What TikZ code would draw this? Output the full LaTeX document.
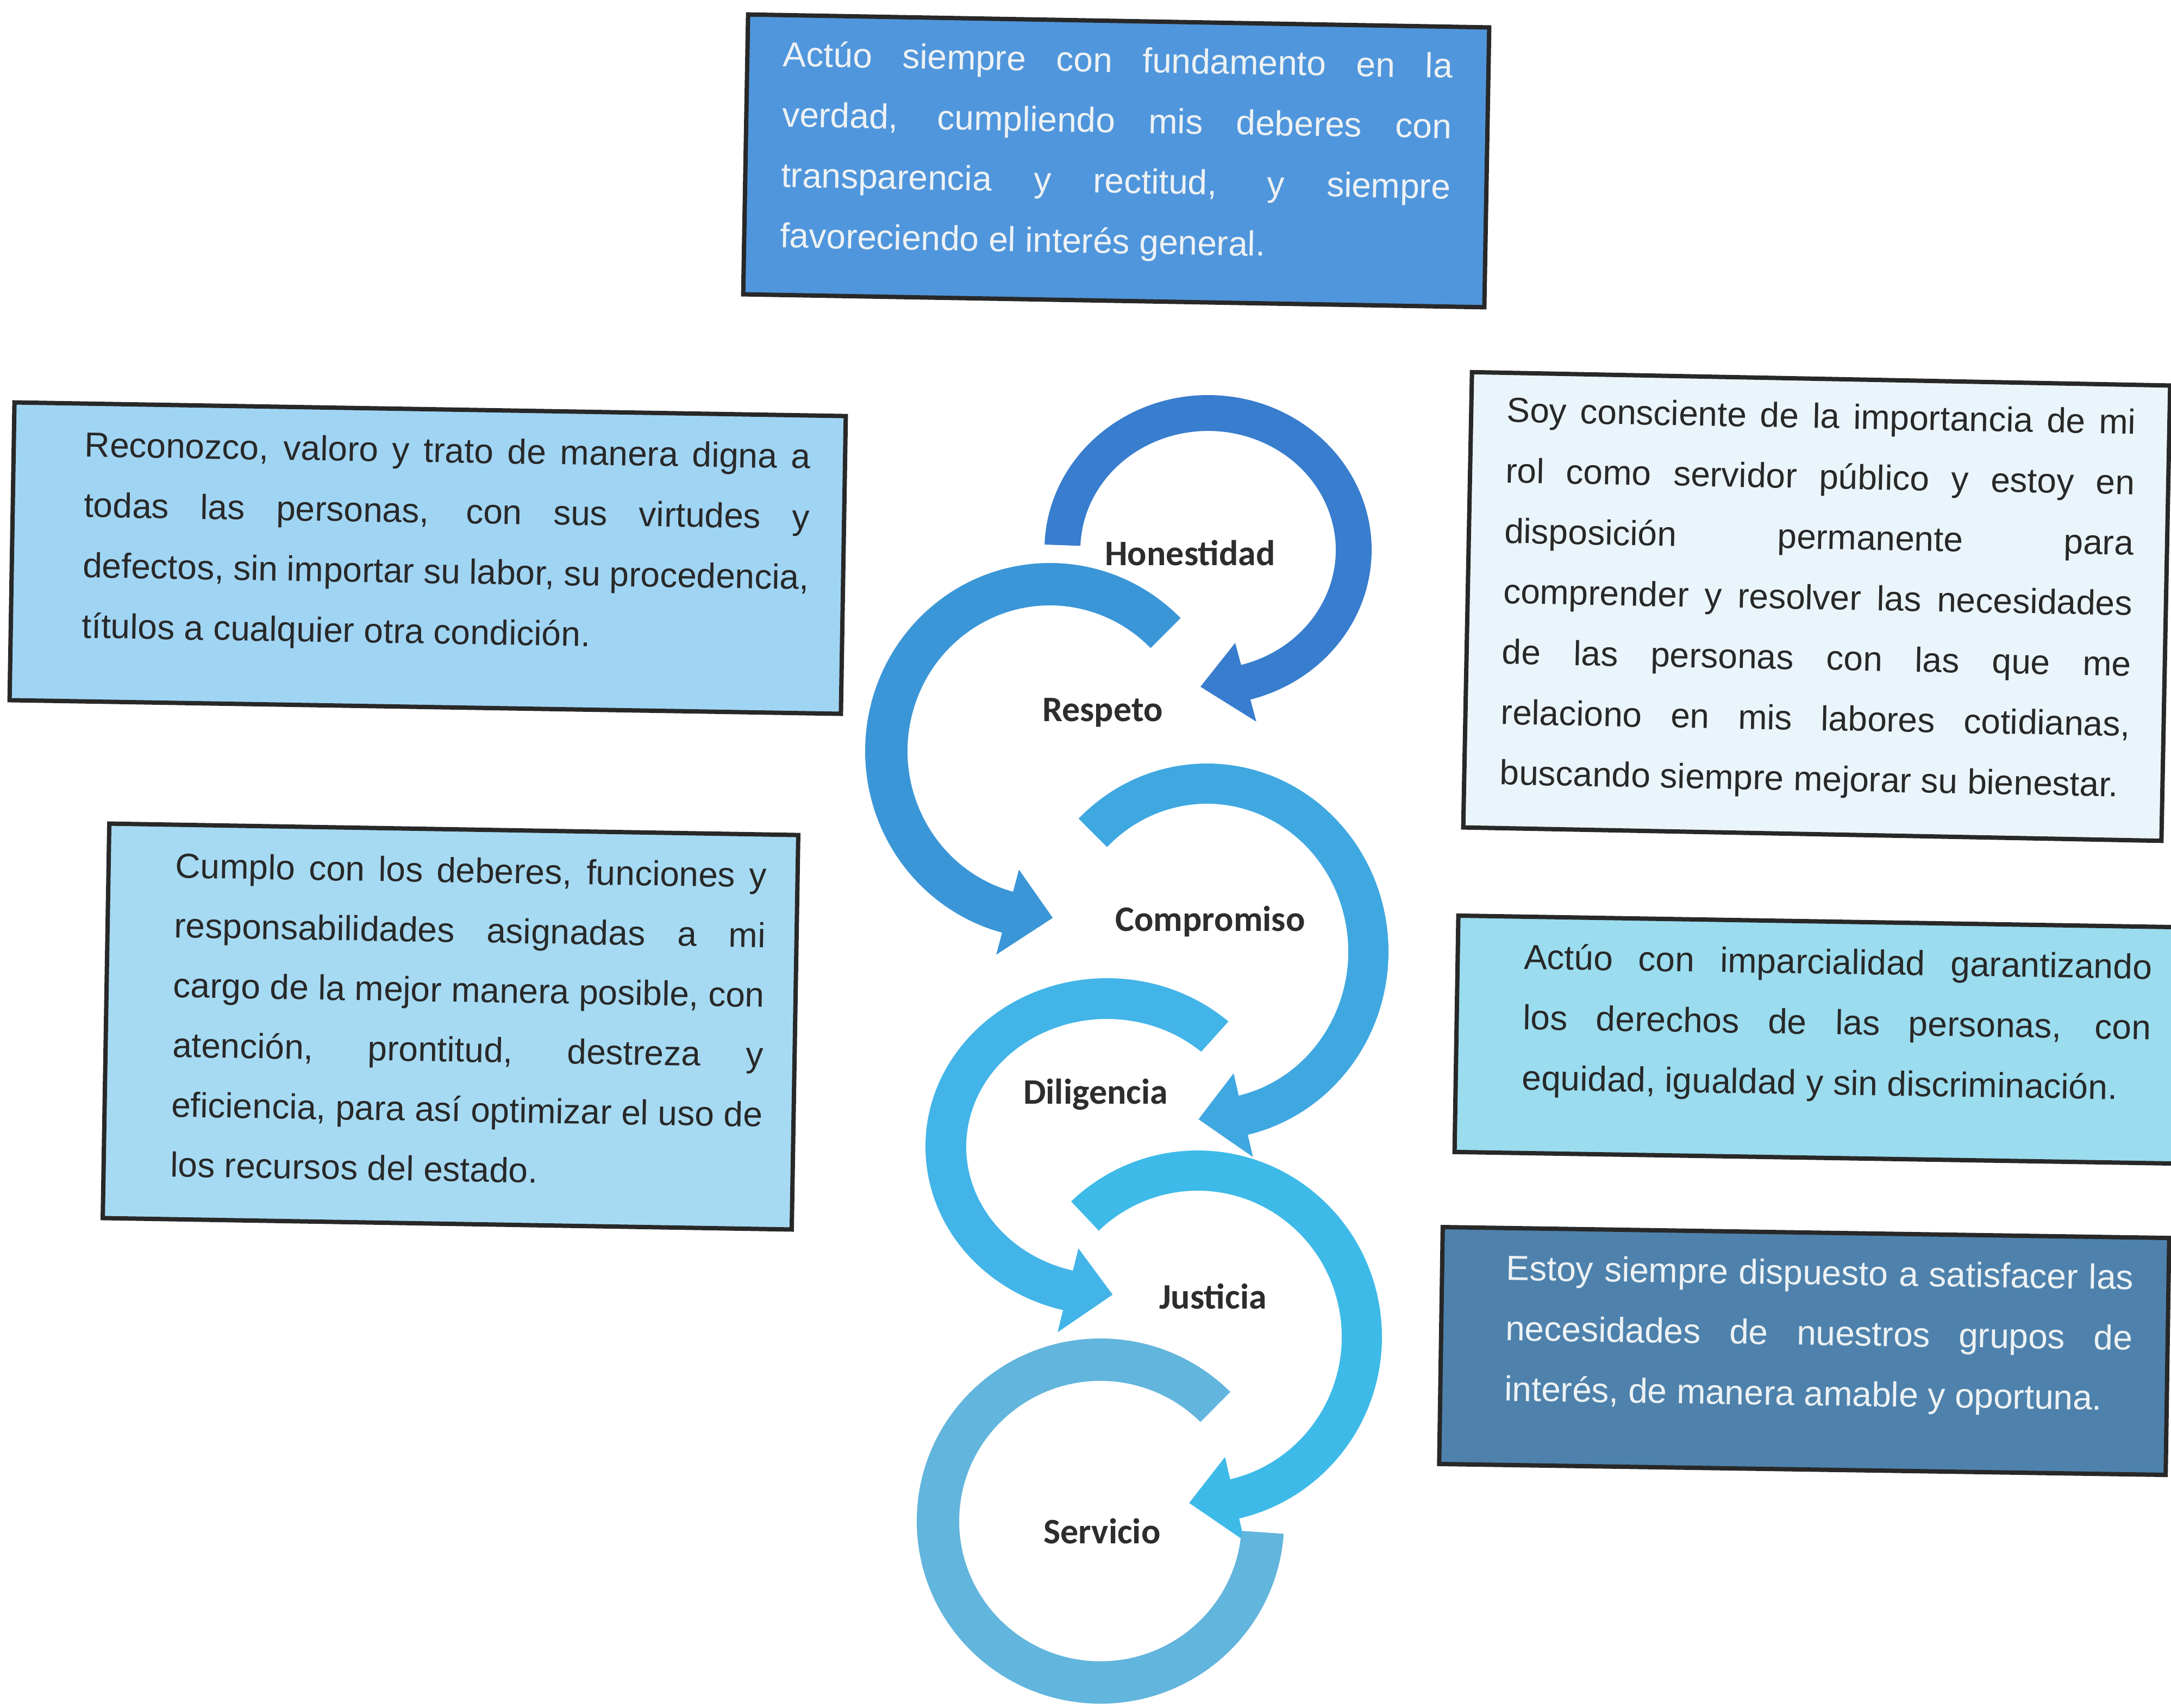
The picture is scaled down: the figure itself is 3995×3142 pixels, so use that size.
\documentclass[tikz,border=0pt]{standalone}
\usepackage{fontspec}
\setmainfont{Liberation Sans}
\newfontfamily\lblfont{Carlito}
\hyphenpenalty=10000
\exhyphenpenalty=10000
\tolerance=10000
\definecolor{boxline}{RGB}{40,40,40}
\definecolor{bOne}{RGB}{80,150,220}
\definecolor{bTwo}{RGB}{160,212,243}
\definecolor{bThree}{RGB}{234,245,251}
\definecolor{bFour}{RGB}{166,218,242}
\definecolor{bFive}{RGB}{155,220,238}
\definecolor{bSix}{RGB}{78,130,172}
\definecolor{darkText}{RGB}{40,40,40}
\definecolor{lightText}{RGB}{238,242,244}
\definecolor{labText}{RGB}{45,45,45}
\definecolor{aOne}{RGB}{56,125,206}
\definecolor{aTwo}{RGB}{59,150,215}
\definecolor{aThree}{RGB}{64,168,225}
\definecolor{aFour}{RGB}{66,180,232}
\definecolor{aFive}{RGB}{62,186,232}
\definecolor{aSix}{RGB}{98,181,220}
\tikzset{
  box/.style={draw=boxline, line width=2pt, inner sep=0pt},
  para/.style={inner sep=0pt, anchor=north, align=justify, font=\fontsize{16}{27.8}\selectfont},
  lab/.style={anchor=base, inner sep=0pt, font=\lblfont\bfseries\fontsize{16.5}{19}\selectfont, text=labText},
}
% #1 cx, #2 cy, #3 outer x radius, #4 outer y radius, #5 thickness, #6 start, #7 body end, #8 tip, #9 colour
\newcommand{\cirArrow}[9]{%
  \pgfmathsetmacro{\ArXi}{#3-#5}\pgfmathsetmacro{\ArYi}{#4-#5}%
  \pgfmathsetmacro{\ArSx}{#3*cos(#6)}\pgfmathsetmacro{\ArSy}{#4*sin(#6)}%
  \pgfmathsetmacro{\ArAx}{(#3+42)*cos(#7)}\pgfmathsetmacro{\ArAy}{(#4+42)*sin(#7)}%
  \pgfmathsetmacro{\ArTx}{(#3-#5/2)*cos(#8)}\pgfmathsetmacro{\ArTy}{(#4-#5/2)*sin(#8)}%
  \pgfmathsetmacro{\ArBx}{(#3-#5-42)*cos(#7)}\pgfmathsetmacro{\ArBy}{(#4-#5-42)*sin(#7)}%
  \pgfmathsetmacro{\ArIx}{(#3-#5)*cos(#7)}\pgfmathsetmacro{\ArIy}{(#4-#5)*sin(#7)}%
  \begin{scope}[shift={(#1,#2)}]
    \fill[#9] (\ArSx,\ArSy) arc[start angle=#6, end angle=#7, x radius=#3, y radius=#4]
      -- (\ArAx,\ArAy) -- (\ArTx,\ArTy) -- (\ArBx,\ArBy) -- (\ArIx,\ArIy)
      arc[start angle=#7, end angle=#6, x radius=\ArXi, y radius=\ArYi] -- cycle;
  \end{scope}}
\begin{document}
\begin{tikzpicture}[x=0.25pt,y=0.25pt]
\useasboundingbox (0,0) rectangle (3995,-3142);
\fill[white] (0,0) rectangle (3995,-3142);

% ---- circular arrows ----
\cirArrow{2223}{-1012}{301}{285}{66}{178}{-75}{-93}{aOne}
\cirArrow{1932}{-1382}{340}{346}{78}{45}{255}{271}{aTwo}
\cirArrow{2221}{-1751}{334}{346}{74}{135}{-77}{-93}{aThree}
\cirArrow{2037}{-2110}{334}{310}{75}{48}{256}{272}{aFour}
\cirArrow{2204}{-2460}{339}{343}{74}{133.4}{-77}{-93}{aFive}
\begin{scope}[shift={(2025,-2799)}]
  \fill[aSix] (239,237.6) arc[start angle=45, end angle=356, x radius=338, y radius=336]
    -- (259.4,-18) arc[start angle=356, end angle=45, x radius=260, y radius=258] -- cycle;
\end{scope}

% ---- labels ----
\node[lab] (hon) at (2190,-1040) {Honestidad};
\node[lab] (res) at (2029,-1327) {Respeto};
\node[lab] (com) at (2227,-1713) {Compromiso};
\node[lab] (dil) at (2016,-2031) {Diligencia};
\node[lab] (jus) at (2232,-2408) {Justicia};
\node[lab] (ser) at (2028,-2840) {Servicio};

% ---- box 1 (top) ----
\begin{scope}[shift={(2054,-296)},rotate=-1.0,transform shape]
  \node[box,fill=bOne,minimum width=341pt,minimum height=128.75pt] (b1) at (0,0) {};
  \node[para,text width=308pt,text=lightText] (t1) at (0,216) {\rule{0pt}{13pt}Actúo siempre con fundamento en la \linebreak verdad, cumpliendo mis deberes con \linebreak transparencia y rectitud, y siempre \linebreak favoreciendo el interés general.};
\end{scope}

% ---- box 2 (left top) ----
\begin{scope}[shift={(787,-1027)},rotate=-0.94,transform shape]
  \node[box,fill=bTwo,minimum width=382.5pt,minimum height=137pt] (b2) at (0,0) {};
  \node[para,text width=334pt,text=darkText] (t2) at (34,229) {\rule{0pt}{13pt}Reconozco, valoro y trato de manera digna a \linebreak todas las personas, con sus virtudes y \linebreak defectos, sin importar su labor, su procedencia, \linebreak títulos a cualquier otra condición.};
\end{scope}

% ---- box 3 (right top) ----
\begin{scope}[shift={(3343,-1116)},rotate=-1.1,transform shape]
  \node[box,fill=bThree,minimum width=321.25pt,minimum height=209.5pt] (b3) at (0,0) {};
  \node[para,text width=289.5pt,text=darkText] (t3) at (2,381) {\rule{0pt}{13pt}Soy consciente de la importancia de mi \linebreak rol como servidor público y estoy en \linebreak disposición permanente para \linebreak comprender y resolver las necesidades \linebreak de las personas con las que me \linebreak relaciono en mis labores cotidianas, \linebreak buscando siempre mejorar su bienestar.};
\end{scope}

% ---- box 4 (left middle) ----
\begin{scope}[shift={(829,-1889)},rotate=-0.95,transform shape]
  \node[box,fill=bFour,minimum width=317pt,minimum height=181.5pt] (b4) at (0,0) {};
  \node[para,text width=272pt,text=darkText,font=\fontsize{16}{27.5}\selectfont] (t4) at (33,318) {\rule{0pt}{13pt}Cumplo con los deberes, funciones y \linebreak responsabilidades asignadas a mi \linebreak cargo de la mejor manera posible, con \linebreak atención, prontitud, destreza y \linebreak eficiencia, para así optimizar el uso de \linebreak los recursos del estado.};
\end{scope}

% ---- box 5 (right middle) ----
\begin{scope}[shift={(3345,-1913)},rotate=-0.92,transform shape]
  \node[box,fill=bFive,minimum width=332.5pt,minimum height=108.75pt] (b5) at (0,0) {};
  \node[para,text width=289pt,text=darkText] (t5) at (35,174) {\rule{0pt}{13pt}Actúo con imparcialidad garantizando \linebreak los derechos de las personas, con \linebreak equidad, igualdad y sin discriminación.};
\end{scope}

% ---- box 6 (right bottom) ----
\begin{scope}[shift={(3320,-2486)},rotate=-0.86,transform shape]
  \node[box,fill=bSix,minimum width=334.25pt,minimum height=109pt] (b6) at (0,0) {};
  \node[para,text width=288.5pt,text=lightText] (t6) at (27,175) {\rule{0pt}{13pt}Estoy siempre dispuesto a satisfacer las \linebreak necesidades de nuestros grupos de \linebreak interés, de manera amable y oportuna.};
\end{scope}
\end{tikzpicture}
\end{document}
